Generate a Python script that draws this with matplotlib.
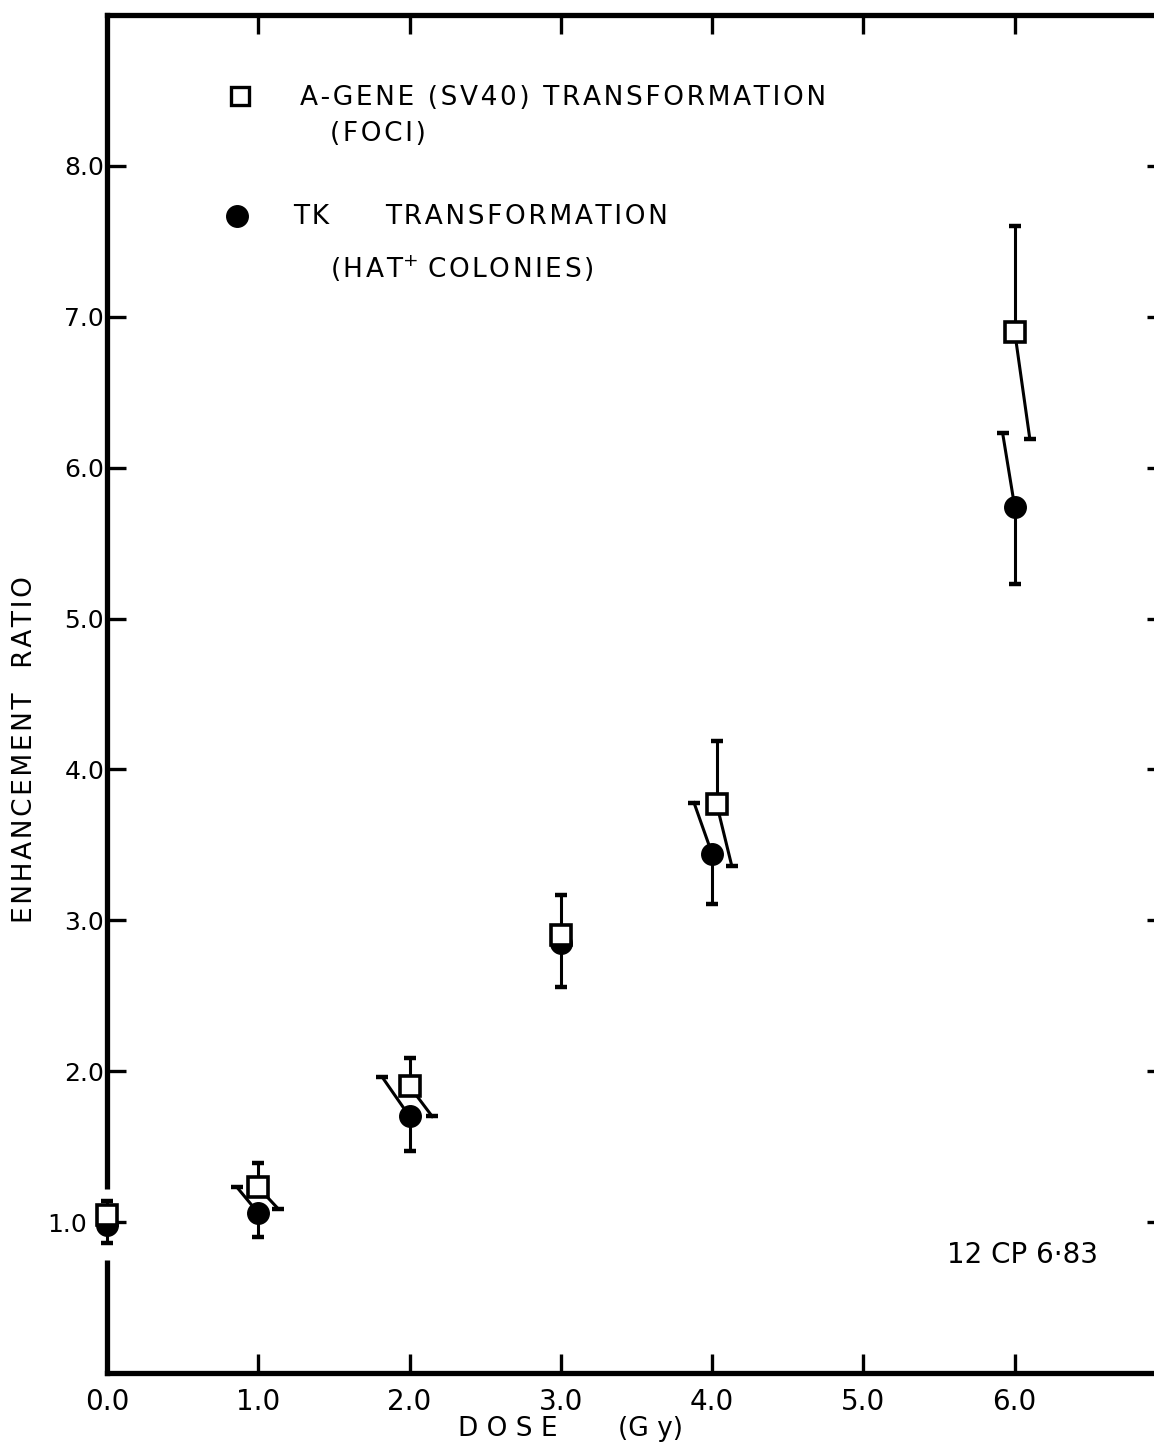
import numpy as np
import matplotlib
matplotlib.use("Agg")
import matplotlib.pyplot as plt
import matplotlib.transforms as mtransforms

nan = np.nan

# dose points (Gy)
dose = [0.0, 1.0, 2.0, 3.0, 4.0, 6.0]
agene_dose = [0.0, 1.0, 2.0, 3.0, 4.03, 6.0]

# A-gene (SV40) transformation, foci
agene = [1.05, 1.23, 1.90, 2.90, 3.77, 6.90]
agene_hi = [1.14, 1.39, 2.09, 3.17, 4.19, 7.60]
# lower bars are drawn offset to the right so they clear the TK points
agene_lo = [nan, 1.09, 1.70, nan, 3.36, 6.19]
agene_lo_x = [nan, 1.13, 2.15, nan, 4.13, 6.10]

# TK transformation, HAT+ colonies
tk = [0.98, 1.06, 1.70, 2.85, 3.44, 5.74]
tk_lo = [0.86, 0.90, 1.47, 2.56, 3.11, 5.23]
# upper bars offset to the left
tk_hi = [nan, 1.23, 1.96, nan, 3.78, 6.23]
tk_hi_x = [nan, 0.86, 1.82, nan, 3.88, 5.92]

yticks = [1.0, 2.0, 3.0, 4.0, 5.0, 6.0, 7.0, 8.0]
xticks = [0.0, 1.0, 2.0, 3.0, 4.0, 5.0, 6.0]


def spaced(s, sp='\u200a'):
    # letter-spaced lettering
    return sp.join(s)


plt.rcParams['font.family'] = ['DejaVu Sans']

fig = plt.figure(figsize=(11.54, 14.42), dpi=100)
ax = fig.add_axes([107 / 1154, (1442 - 1373) / 1442, (1166 - 107) / 1154, (1373 - 15) / 1442])
ax.set_xlim(0, 7.0)
ax.set_ylim(0, 9.0)

for s in ax.spines.values():
    s.set_linewidth(3.8)
ax.tick_params(direction='in', length=14, width=2.4, top=True, right=True, pad=2)
ax.tick_params(axis='x', pad=11, labelsize=20)
ax.tick_params(axis='y', labelsize=18)
ax.set_xticks(xticks)
ax.set_yticks(yticks)
ax.set_xticklabels([f"{v:.1f}" for v in xticks])
ax.set_yticklabels([f"{v:.1f}" for v in yticks])

# the 1.0 label sits clear of the zero-dose points
lab = ax.get_yticklabels()[0]
lab.set_transform(lab.get_transform() +
                  mtransforms.ScaledTranslation(-17 / 100, 0, fig.dpi_scale_trans))

# break in the left axis behind the zero-dose points
ax.plot([0, 0], [0.75, 1.22], color='white', lw=8, zorder=2.7, clip_on=False,
        solid_capstyle='butt')

lw = 2.2
cap = dict(marker='_', markersize=9, mew=3.2, color='black')

# TK: vertical lower bars, slanted upper bars
tk_arr = np.array(tk)
ax.errorbar(dose, tk, yerr=[tk_arr - np.array(tk_lo), np.zeros(len(tk))],
            fmt='none', ecolor='black', elinewidth=lw, capsize=4.5, capthick=3.2,
            zorder=3, clip_on=False)
for x0, y0, x1, y1 in zip(dose, tk, tk_hi_x, tk_hi):
    if np.isnan(y1):
        continue
    ax.plot([x0, x1], [y0, y1], color='black', lw=lw, zorder=3)
    ax.plot([x1], [y1], zorder=3, **cap)
ax.plot(dose, tk, 'o', color='black', markersize=15.5, zorder=4, clip_on=False)

# A-gene: vertical upper bars, slanted lower bars
ag_arr = np.array(agene)
ax.errorbar(agene_dose, agene, yerr=[np.zeros(len(agene)), np.array(agene_hi) - ag_arr],
            fmt='none', ecolor='black', elinewidth=lw, capsize=4.5, capthick=3.2,
            zorder=5, clip_on=False)
for x0, y0, x1, y1 in zip(agene_dose, agene, agene_lo_x, agene_lo):
    if np.isnan(y1):
        continue
    ax.plot([x0, x1], [y0, y1], color='black', lw=lw, zorder=5)
    ax.plot([x1], [y1], zorder=5, **cap)
ax.plot(agene_dose, agene, 's', markerfacecolor='white', markeredgecolor='black',
        markeredgewidth=2.6, markersize=14, zorder=6, clip_on=False)

# key
ax.plot([0.88], [8.46], 's', markerfacecolor='white', markeredgecolor='black',
        markeredgewidth=2.4, markersize=13)
ax.plot([0.86], [7.67], 'o', color='black', markersize=15.5)
kw = dict(fontsize=19, va='center', ha='left')
ax.text(1.276, 8.45, spaced("A-GENE (SV40) TRANSFORMATION"), **kw)
ax.text(1.474, 8.21, spaced("(FOCI)"), **kw)
ax.text(1.23, 7.66, spaced("TK"), **kw)
ax.text(1.84, 7.66, spaced("TRANSFORMATION"), **kw)
ax.text(1.474, 7.32, spaced("(HAT") + "$^{+}$ " + spaced("COLONIES)"), **kw)

ax.text(5.55, 0.78, "12 CP 6·83", fontsize=20, va='center', ha='left')

fig.text(25 / 1154, 1 - 750 / 1442, spaced("ENHANCEMENT  RATIO"), rotation=90,
         fontsize=19, ha='center', va='center')
fig.text(458 / 1154, 1 - 1429 / 1442, "D O S E", fontsize=19, ha='left', va='center')
fig.text(618 / 1154, 1 - 1429 / 1442, "(G y)", fontsize=19, ha='left', va='center')

fig.savefig("out.png", dpi=100)
